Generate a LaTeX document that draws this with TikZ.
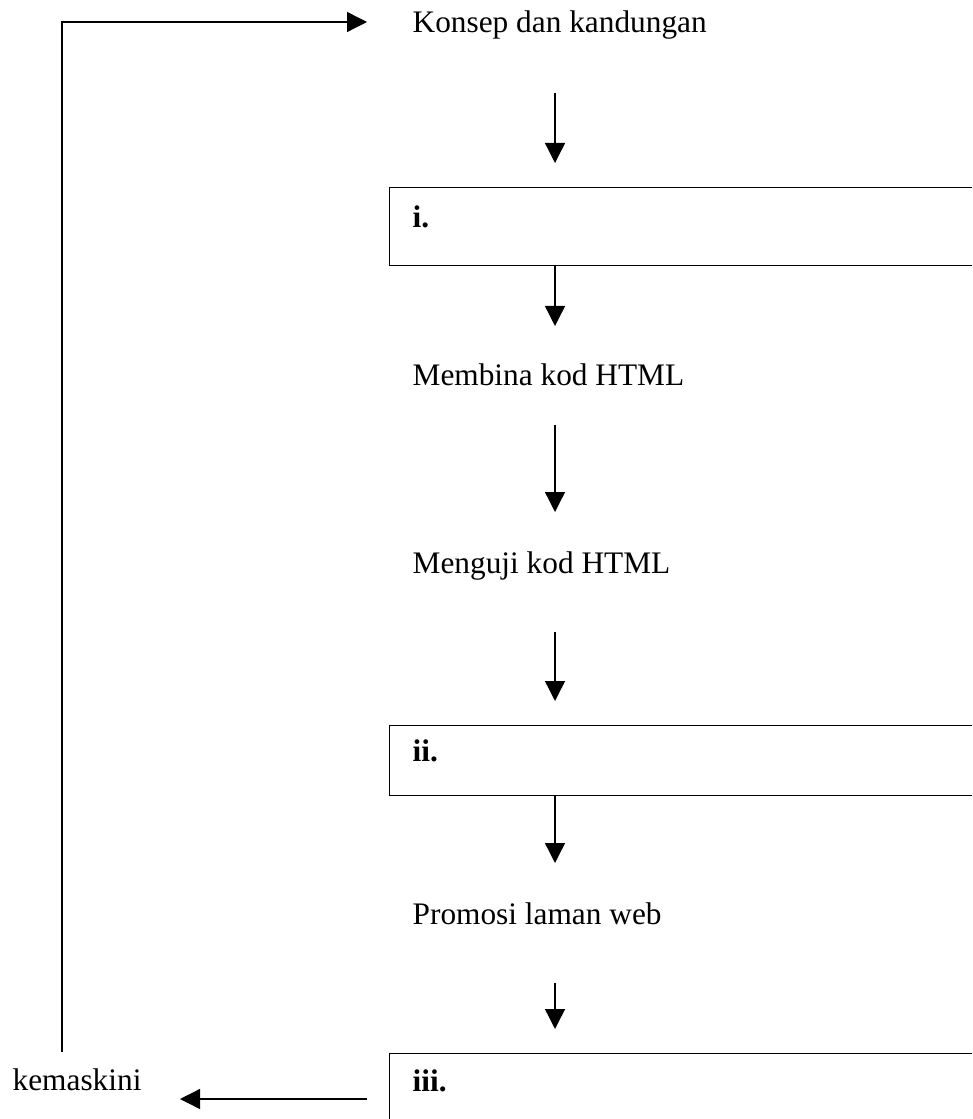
\documentclass[tikz,border=0pt]{standalone}
\usepackage{fontspec}
\setmainfont{Liberation Serif}
\usetikzlibrary{arrows.meta}
\begin{document}
\begin{tikzpicture}[x=0.75pt,y=-0.75pt,line width=1pt,
  arr/.style={-{Triangle[length=15pt,width=15pt]}},
  lbl/.style={anchor=base west,inner sep=0pt,font=\fontsize{23.5pt}{28pt}\selectfont},
  boxlbl/.style={anchor=base west,inner sep=0pt,font=\fontsize{23.5pt}{28pt}\selectfont\bfseries},
  stepbox/.style={draw,anchor=north west,inner sep=0pt,minimum width=500pt}]
\clip (0,0) rectangle (972,1119);
% text labels
\node[lbl] (konsep) at (412,33) {Konsep dan kandungan};
\node[lbl] (membina) at (412,385) {Membina kod HTML};
\node[lbl] (menguji) at (412,573) {Menguji kod HTML};
\node[lbl] (promosi) at (412,924) {Promosi laman web};
\node[lbl] (kemas) at (12,1090) {kemaskini};
% boxes
\node[stepbox,minimum height=58.5pt] (boxi) at (389,187) {};
\node[stepbox,minimum height=52.5pt] (boxii) at (389,725) {};
\node[stepbox,minimum height=75pt] (boxiii) at (389,1053) {};
\node[boxlbl] (li) at (412,228) {i.};
\node[boxlbl] (lii) at (412,761) {ii.};
\node[boxlbl] (liii) at (412,1091) {iii.};
% connector end points
\coordinate (a1s) at (555,93);   \coordinate (a1e) at (555,163);
\coordinate (a2s) at (555,265);  \coordinate (a2e) at (555,326);
\coordinate (a3s) at (555,425);  \coordinate (a3e) at (555,512);
\coordinate (a4s) at (555,632);  \coordinate (a4e) at (555,701);
\coordinate (a5s) at (555,795);  \coordinate (a5e) at (555,863);
\coordinate (a6s) at (555,983);  \coordinate (a6e) at (555,1029);
\coordinate (ls) at (367,1099);  \coordinate (le) at (180,1099);
\coordinate (fb) at (62,1052);   \coordinate (ft) at (367,22);
% connectors
\draw[arr] (a1s) -- (a1e);
\draw[arr] (a2s) -- (a2e);
\draw[arr] (a3s) -- (a3e);
\draw[arr] (a4s) -- (a4e);
\draw[arr] (a5s) -- (a5e);
\draw[arr] (a6s) -- (a6e);
\draw[arr] (ls) -- (le);
\draw[arr] (fb) |- (ft);
\end{tikzpicture}
\end{document}
